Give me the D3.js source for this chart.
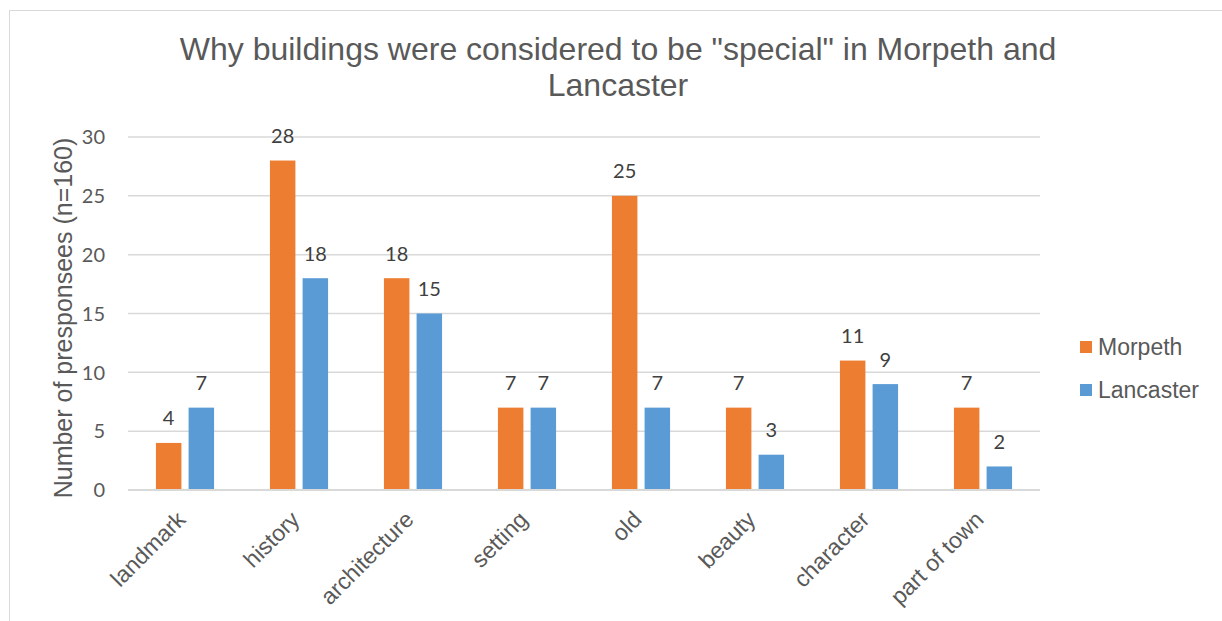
<!DOCTYPE html>
<html><head><meta charset="utf-8">
<script src="https://cdn.jsdelivr.net/npm/d3@7"></script>
<style>body{margin:0;background:#fff}svg{display:block}</style>
</head><body>
<svg id="c" width="1222" height="621"></svg>
<script>
const categories = ["landmark","history","architecture","setting","old","beauty","character","part of town"];
const seriesNames = ["Morpeth","Lancaster"];
const morpeth = [4,28,18,7,25,7,11,7];
const lancaster = [7,18,15,7,7,3,9,2];
const yTicks = [0,5,10,15,20,25,30];
const colors = ["#ED7D31","#5B9BD5"];

(function(){
const svg = d3.select("#c");
// outer border
svg.append("path").attr("d","M9.5,621 V10.5 H1222").attr("fill","none").attr("stroke","#d9d9d9").attr("stroke-width",1);

const pL=128, pR=1040, pT=137, pB=490;
const y = d3.scaleLinear().domain([0,30]).range([pB,pT]);
const x0 = d3.scaleBand().domain(categories).range([pL,pR]).padding(0);
const bw = x0.bandwidth();
const x1 = d3.scaleBand().domain(seriesNames).range([bw*0.245,bw*0.755]).paddingInner(0.22);

// gridlines
svg.append("g").selectAll("line").data(yTicks.filter(d=>d>0)).join("line")
  .attr("x1",pL).attr("x2",pR).attr("y1",d=>y(d)).attr("y2",d=>y(d))
  .attr("stroke","#d9d9d9").attr("stroke-width",1.5);

// y tick labels
svg.append("g").selectAll("text").data(yTicks).join("text")
  .attr("x",105).attr("y",d=>y(d)).attr("dy","0.36em").attr("text-anchor","end")
  .attr("font-family","Lato, 'Open Sans', sans-serif").attr("font-size",20).attr("fill","#595959")
  .text(d=>d);

const data = categories.map((c,i)=>({cat:c, vals:[{s:"Morpeth",v:morpeth[i]},{s:"Lancaster",v:lancaster[i]}]}));
const groups = svg.append("g").selectAll("g").data(data).join("g")
  .attr("transform",d=>`translate(${x0(d.cat)},0)`);
groups.selectAll("rect").data(d=>d.vals).join("rect")
  .attr("x",d=>x1(d.s)).attr("width",x1.bandwidth())
  .attr("y",d=>y(d.v)).attr("height",d=>pB-y(d.v))
  .attr("fill",(d,i)=>colors[i]);
groups.selectAll("text").data(d=>d.vals).join("text")
  .attr("x",d=>x1(d.s)+x1.bandwidth()/2).attr("y",d=>y(d.v)-17.5)
  .attr("text-anchor","middle")
  .attr("font-family","Lato, 'Open Sans', sans-serif").attr("font-size",20).attr("fill","#404040")
  .text(d=>d.v);

// baseline
svg.append("line").attr("x1",pL).attr("x2",pR).attr("y1",pB).attr("y2",pB)
  .attr("stroke","#d9d9d9").attr("stroke-width",2);

// category labels
svg.append("g").selectAll("text").data(categories).join("text")
  .attr("transform",d=>`translate(${x0(d)+bw/2+2},521) rotate(-45)`)
  .attr("text-anchor","end")
  .attr("font-family","'Liberation Sans', Arial, sans-serif").attr("font-size",23).attr("fill","#595959")
  .text(d=>d);

// y axis title
svg.append("text").attr("transform",`translate(72,318) rotate(-90)`)
  .attr("text-anchor","middle")
  .attr("font-family","'Liberation Sans', Arial, sans-serif").attr("font-size",25).attr("fill","#595959")
  .text("Number of presponsees (n=160)");

// title
const title = svg.append("text").attr("text-anchor","middle")
  .attr("font-family","'Liberation Sans', Arial, sans-serif").attr("font-size",32).attr("fill","#595959");
title.append("tspan").attr("x",618).attr("y",60).text('Why buildings were considered to be "special" in Morpeth and');
title.append("tspan").attr("x",618).attr("y",96).text('Lancaster');

// legend
const lg = svg.append("g").selectAll("g").data(seriesNames).join("g")
  .attr("transform",(d,i)=>`translate(1080,${341+i*43})`);
lg.append("rect").attr("width",12).attr("height",12).attr("fill",(d,i)=>colors[i]);
lg.append("text").attr("x",18).attr("y",6).attr("dy","0.36em")
  .attr("font-family","'Liberation Sans', Arial, sans-serif").attr("font-size",23).attr("fill","#595959")
  .text(d=>d);
})();
</script>
</body></html>
